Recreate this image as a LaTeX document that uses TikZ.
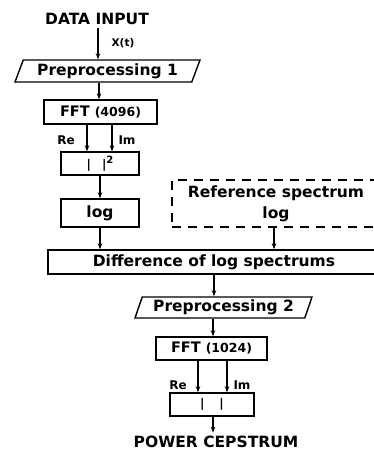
\documentclass[tikz,border=0pt]{standalone}
\usepackage{fontspec}
\setmainfont{DejaVu Sans}
\usetikzlibrary{shapes.geometric,arrows.meta}
\begin{document}
\begin{tikzpicture}[x=1pt,y=-1pt,
  lw/.style={line width=1.4pt},
  box/.style={lw, draw, rectangle, inner sep=0pt},
  para/.style={lw, draw, trapezium, trapezium stretches body, inner sep=0pt},
  arr/.style={lw, -{Stealth[length=6pt,width=4.5pt]}},
  big/.style={font=\bfseries\fontsize{15.5}{19}\selectfont},
  small/.style={font=\bfseries\fontsize{12}{14}\selectfont},
  tiny/.style={font=\bfseries\fontsize{10.5}{13}\selectfont}]
\useasboundingbox (0,0) rectangle (374,458);
\clip (0,0) rectangle (374,458);

% nodes
\node[big] (in) at (97,19) {DATA INPUT};
\node[para, big, trapezium left angle=61.4, trapezium right angle=118.6,
      minimum width=185pt, minimum height=22pt] (p1) at (107.5,71) {Preprocessing 1};
\node[box, minimum width=113pt, minimum height=24pt] (fft1) at (100.5,112)
      {\bfseries\fontsize{14.5}{18}\selectfont FFT \fontsize{12.5}{14}\selectfont(4096)};
\node[box, minimum width=78pt, minimum height=23pt] (abs1) at (100,163.5)
      {\bfseries\fontsize{12}{14}\selectfont|\hspace{11pt}|\raisebox{5pt}{\fontsize{10}{12}\selectfont 2}};
\node[box, big, minimum width=78pt, minimum height=28pt] (log1) at (100,213) {log};
\node[lw, draw, dash pattern=on 9pt off 7pt, rectangle, inner sep=0pt,
      minimum width=208pt, minimum height=47pt, align=center, big] (ref) at (276,203.5)
      {Reference spectrum\\[2pt]log};
\node[box, big, minimum width=332pt, minimum height=24pt] (diff) at (214,262)
      {Difference of log spectrums};
\node[para, big, trapezium left angle=64.5, trapezium right angle=115.5,
      minimum width=177pt, minimum height=21pt] (p2) at (223.5,307.5) {Preprocessing 2};
\node[box, minimum width=111pt, minimum height=23pt] (fft2) at (211.5,348.5)
      {\bfseries\fontsize{14.5}{18}\selectfont FFT \fontsize{12.5}{14}\selectfont(1024)};
\node[box, minimum width=84pt, minimum height=23pt] (abs2) at (212,404.5)
      {\bfseries\fontsize{12}{14}\selectfont|\hspace{15pt}|};
\node[big] (out) at (216,442) {POWER CEPSTRUM};

% labels
\node[tiny] (xt) at (123,43) {X(t)};
\node[small] (re1) at (66,140) {Re};
\node[small] (im1) at (127,140) {Im};
\node[small] (re2) at (178,385) {Re};
\node[small] (im2) at (242,385) {Im};

% connectors
\draw[arr] ([xshift=1pt]in.south) -- ([xshift=1pt]in.south |- p1.north);
\draw[arr] ([xshift=-1.5pt]fft1.north |- p1.south) -- ([xshift=-1.5pt]fft1.north);
\draw[arr] ([xshift=-13.5pt]fft1.south) -- ([xshift=-13.5pt]fft1.south |- abs1.north);
\draw[arr] ([xshift=11.5pt]fft1.south) -- ([xshift=11.5pt]fft1.south |- abs1.north);
\draw[arr] (abs1.south) -- (log1.north);
\draw[arr] (log1.south) -- (log1.south |- diff.north);
\draw[arr] ([xshift=-2pt]ref.south) -- ([xshift=-2pt]ref.south |- diff.north);
\draw[arr] (diff.south) -- (diff.south |- p2.north);
\draw[arr] ([xshift=1.5pt]fft2.north |- p2.south) -- ([xshift=1.5pt]fft2.north);
\draw[arr] ([xshift=-13.5pt]fft2.south) -- ([xshift=-13.5pt]fft2.south |- abs2.north);
\draw[arr] ([xshift=15.5pt]fft2.south) -- ([xshift=15.5pt]fft2.south |- abs2.north);
\draw[arr] ([xshift=1pt]abs2.south) -- ([xshift=1pt]abs2.south |- out.north);
\end{tikzpicture}
\end{document}
